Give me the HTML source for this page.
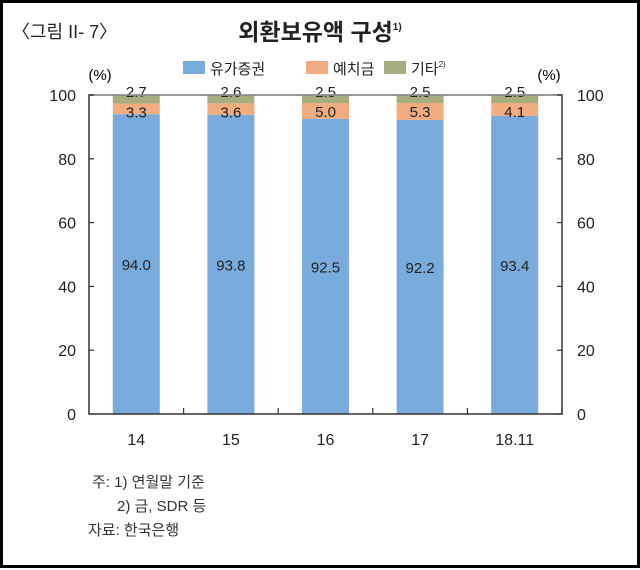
<!DOCTYPE html>
<html><head><meta charset="utf-8"><style>
body{margin:0;background:#fff}
#wrap{position:relative;width:640px;height:568px;box-sizing:border-box;border:3px solid #000;background:#fff;font-family:"Liberation Sans","Noto Sans CJK KR",sans-serif;color:#222}
svg text{font-family:"Liberation Sans","Noto Sans CJK KR",sans-serif}
</style></head><body>
<div id="wrap">
<svg id="chart" width="634" height="562" viewBox="3 3 634 562">
<text x="12" y="38" font-size="18" fill="#222">〈그림 II- 7〉</text>
<text x="320" y="40" font-size="23" font-weight="bold" fill="#222" text-anchor="middle">외환보유액 구성<tspan font-size="10" dy="-10">1)</tspan></text>
<g id="legend"></g>
<text x="100" y="80" font-size="15" text-anchor="middle">(%)</text>
<text x="549" y="80" font-size="15" text-anchor="middle">(%)</text>
<g id="plot"></g>
<text x="92" y="487" font-size="15" fill="#333">주: 1) 연월말 기준</text>
<text x="117" y="511" font-size="15" fill="#333">2) 금, SDR 등</text>
<text x="88" y="535" font-size="15" fill="#333">자료: 한국은행</text>
</svg>
</div>
<script>
const categories=["14","15","16","17","18.11"];
const securities=[94.0,93.8,92.5,92.2,93.4];
const deposits=[3.3,3.6,5.0,5.3,4.1];
const others=[2.7,2.6,2.5,2.5,2.5];
const yTicks=[0,20,40,60,80,100];
const seriesNames=["유가증권","예치금","기타"];
const colors=["#79acdc","#f1ad7f","#a8ad7f"];
const NS="http://www.w3.org/2000/svg";
const X0=89,X1=562,Y0=414,Y1=95;
const y=v=>Y0-(v/100)*(Y0-Y1);
const band=(X1-X0)/categories.length;
const xc=i=>X0+band*(i+0.5);
const BW=47;
function mk(tag,attrs,parent){const e=document.createElementNS(NS,tag);for(const k in attrs)e.setAttribute(k,attrs[k]);parent.appendChild(e);return e;}
const plot=document.getElementById('plot');
const series=[securities,deposits,others];
categories.forEach((c,i)=>{
  let base=0;
  series.forEach((s,j)=>{
    const r=mk('rect',{x:xc(i)-BW/2,y:y(base+s[i]),width:BW,height:y(base)-y(base+s[i]),fill:colors[j]},plot);
    
    
    let ly;
    if(j===0)ly=y(base+s[i]/2)+6;else if(j===1)ly=y(base+s[i])+14;else ly=y(100)+2;
    const t=mk('text',{x:xc(i),y:ly,'font-size':15,'text-anchor':'middle',fill:'#222'},plot);
    t.textContent=s[i].toFixed(1);
    
    
    base+=s[i];
  });
  const xl=mk('text',{x:xc(i),y:445,'font-size':16,'text-anchor':'middle',fill:'#222'},plot);
  xl.textContent=c;
  
  
});
const fr=mk('rect',{x:X0,y:Y1,width:X1-X0,height:Y0-Y1,fill:'none',stroke:'#333','stroke-width':1.5},plot);


const topLine=mk('line',{x1:X0,x2:X1,y1:Y1,y2:Y1,stroke:'#999','stroke-width':1.5},plot);


for(let i=1;i<categories.length;i++){
  const tk=mk('line',{x1:X0+band*i,x2:X0+band*i,y1:Y0,y2:Y0-6,stroke:'#333','stroke-width':1.2},plot);
  
  
}
yTicks.forEach(v=>{
  const a=mk('text',{x:76,y:y(v)+6,'font-size':16,'text-anchor':'end',fill:'#222'},plot);
  a.textContent=v;
  
  
  const b=mk('text',{x:577,y:y(v)+6,'font-size':16,'text-anchor':'start',fill:'#222'},plot);
  b.textContent=v;
  
  
  [[X0,X0+5],[X1-5,X1]].forEach(p=>{
    const l=mk('line',{x1:p[0],x2:p[1],y1:y(v),y2:y(v),stroke:'#333','stroke-width':1.2},plot);
    
    
  });
});
const lg=document.getElementById('legend');
const lx=[183,306,384];
seriesNames.forEach((n,j)=>{
  const r=mk('rect',{x:lx[j],y:61,width:22,height:13,fill:colors[j]},lg);
  
  
  const t=mk('text',{x:lx[j]+27,y:74,'font-size':15,fill:'#222'},lg);
  t.textContent=n;
  if(j===2){const s=mk('tspan',{'font-size':8,dy:-7},t);s.textContent='2)';}
  
  
});
</script>
</body></html>
